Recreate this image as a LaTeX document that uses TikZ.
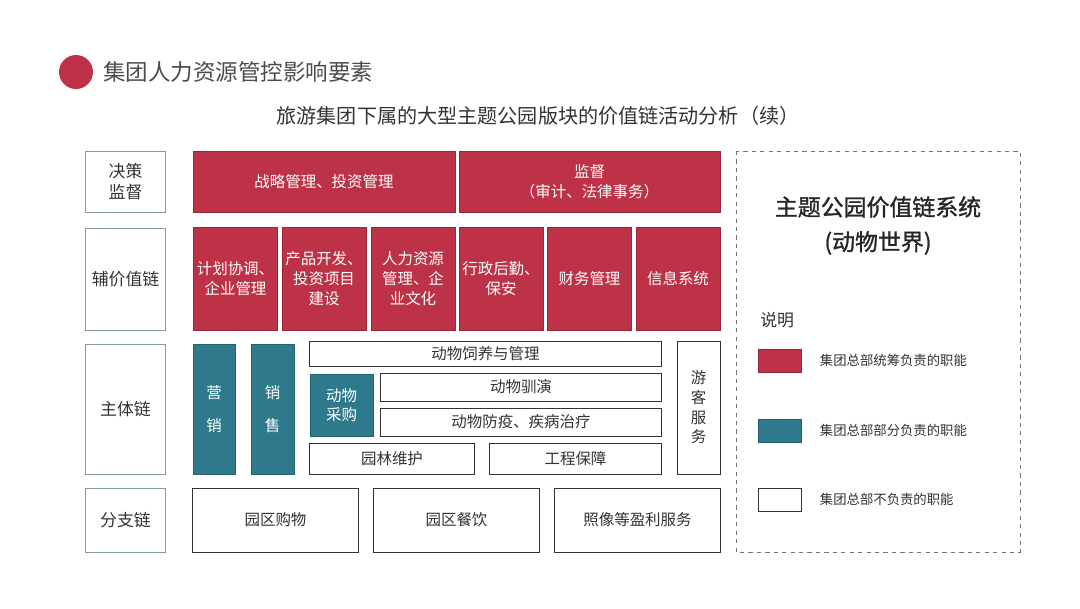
\documentclass[tikz,border=0pt]{standalone}
\usepackage{fontspec}
\setmainfont{Noto Sans CJK SC}
\newfontfamily\medfont[FakeBold=1.2]{Noto Sans CJK SC}
\usepackage{tikz}
\usetikzlibrary{positioning}
\definecolor{accent}{HTML}{BE3247}
\definecolor{teal}{HTML}{2E7A8C}
\definecolor{ink}{HTML}{333333}
\definecolor{rim}{HTML}{7F9BA5}

\begin{document}
\begin{tikzpicture}[x=0.025cm,y=-0.025cm,
  font=\fontsize{11}{14}\selectfont,
  rd/.style={fill=accent,draw=accent!80!black,line width=0.3pt,text=white,align=center,inner sep=1pt},
  tl/.style={fill=teal,draw=teal!80!black,line width=0.3pt,text=white,align=center,inner sep=1pt},
  wt/.style={fill=white,draw=ink,line width=0.7pt,text=ink,align=center,inner sep=1pt},
  lab/.style={fill=white,draw=rim,line width=0.7pt,text=ink,align=center,minimum width=1.975cm,font=\fontsize{12}{15}\selectfont},
  key/.style={minimum width=1.075cm,minimum height=0.575cm,inner sep=0pt},
  note/.style={right,text=ink,font=\fontsize{9.5}{12}\selectfont}]
\useasboundingbox[fill=white] (0,0) rectangle (1080,608);
% heading
\fill[accent] (76,72) circle[radius=17] coordinate (dot);
\node[right,text=black!70,font=\fontsize{16}{19}\selectfont,inner sep=0pt] (head) at (103,72) {集团人力资源管控影响要素};
\node[text=ink,font=\fontsize{14.3}{17}\selectfont] (sub) at (538,116) {旅游集团下属的大型主题公园版块的价值链活动分析（续）};
% row labels
\node[lab,minimum height=1.525cm] (jc) at (125.5,181.5) {决策\\监督};
\node[lab,minimum height=2.55cm] (fz) at (125.5,279) {辅价值链};
\node[lab,minimum height=3.25cm] (zt) at (125.5,409) {主体链};
\node[lab,minimum height=1.6cm] (fzl) at (125.5,520) {分支链};
% decision row
\node[rd,minimum width=6.55cm,minimum height=1.525cm] (zl) at (324,181.5) {战略管理、投资管理};
\node[rd,minimum width=6.525cm,minimum height=1.525cm] (jd) at (589.5,181.5) {监督\\（审计、法律事务）};
% support row
\node[rd,minimum width=2.1cm,minimum height=2.575cm] (jh) at (235.5,278.5) {计划协调、\\企业管理};
\node[rd,minimum width=2.1cm,minimum height=2.575cm] (cp) at (324,278.5) {产品开发、\\投资项目\\建设};
\node[rd,minimum width=2.1cm,minimum height=2.575cm] (rl) at (413,278.5) {人力资源\\管理、企\\业文化};
\node[rd,minimum width=2.1cm,minimum height=2.575cm] (xz) at (501,278.5) {行政后勤、\\保安};
\node[rd,minimum width=2.1cm,minimum height=2.575cm] (cw) at (589.5,278.5) {财务管理};
\node[rd,minimum width=2.1cm,minimum height=2.575cm] (xx) at (678,278.5) {信息系统};
% main chain
\node[tl,minimum width=1.05cm,minimum height=3.25cm] (yx) at (214,409) {营\\[9pt]销};
\node[tl,minimum width=1.075cm,minimum height=3.25cm] (xs) at (272.5,409) {销\\[9pt]售};
\node[wt,minimum width=8.775cm,minimum height=0.625cm] (sy) at (485.5,353.5) {动物饲养与管理};
\node[tl,minimum width=1.575cm,minimum height=1.55cm] (cg) at (341.5,405) {动物\\采购};
\node[wt,minimum width=7cm,minimum height=0.7cm] (xy) at (521,387) {动物驯演};
\node[wt,minimum width=7cm,minimum height=0.7cm] (fy) at (521,422) {动物防疫、疾病治疗};
\node[wt,minimum width=4.1cm,minimum height=0.775cm] (yl) at (392,458.5) {园林维护};
\node[wt,minimum width=4.275cm,minimum height=0.775cm] (gc) at (575.5,458.5) {工程保障};
\node[wt,minimum width=1.075cm,minimum height=3.325cm] (yk) at (698.5,407.5) {游\\客\\服\\务};
% branch chain
\node[wt,minimum width=4.125cm,minimum height=1.6cm] (gw) at (275.5,520) {园区购物};
\node[wt,minimum width=4.125cm,minimum height=1.6cm] (cy) at (456.5,520) {园区餐饮};
\node[wt,minimum width=4.125cm,minimum height=1.6cm] (zx) at (637.5,520) {照像等盈利服务};
% legend panel
\draw[dashed,draw=black!55,line width=0.6pt] (736,151) rectangle (1020,552);
\node[text=black!85,font=\medfont\fontsize{16.3}{19}\selectfont] (sys) at (878,207) {主题公园价值链系统};
\node[text=black!85,font=\medfont\fontsize{16.3}{19}\selectfont] (dw) at (878,243) {(动物世界)};
\node[right,text=ink,font=\fontsize{12}{15}\selectfont,inner sep=0pt] (sm) at (760,320) {说明};
\node[key,rd] (k1) at (779.5,360.5) {};
\node[key,tl] (k2) at (779.5,430.5) {};
\node[key,wt] (k3) at (779.5,499.5) {};
\node[note] at (815,360.5) {集团总部统筹负责的职能};
\node[note] at (815,430.5) {集团总部部分负责的职能};
\node[note] at (815,499.5) {集团总部不负责的职能};
\end{tikzpicture}
\end{document}
